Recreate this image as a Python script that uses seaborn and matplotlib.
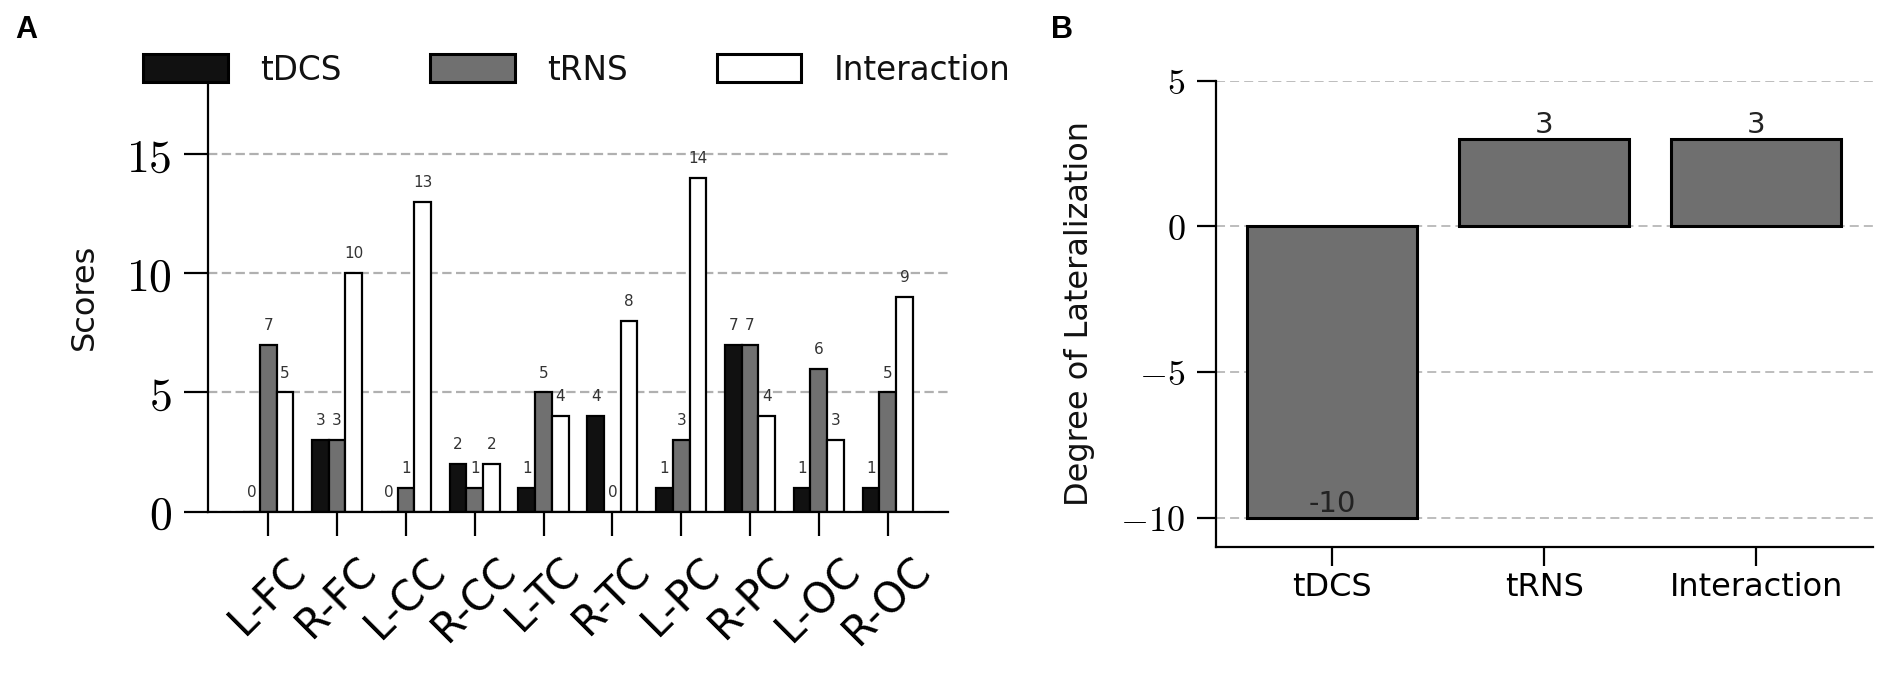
import numpy as np
import pandas as pd
import matplotlib
matplotlib.use("Agg")
import matplotlib.pyplot as plt
from matplotlib.patches import Patch
import seaborn as sns

# data
regions = ['L-FC', 'R-FC', 'L-CC', 'R-CC', 'L-TC', 'R-TC', 'L-PC', 'R-PC', 'L-OC', 'R-OC']
conditions = ['tDCS', 'tRNS', 'Interaction']
tdcs_scores = [0, 3, 0, 2, 1, 4, 1, 7, 1, 1]
trns_scores = [7, 3, 1, 1, 5, 0, 3, 7, 6, 5]
inter_scores = [5, 10, 13, 2, 4, 8, 14, 4, 3, 9]
lat_values = [-10, 3, 3]
yticks_a = [0, 5, 10, 15]
yticks_b = [-10, -5, 0, 5]

bar_colors = ['#111111', '#707070', '#ffffff']

df_a = pd.DataFrame({
    'region': regions * 3,
    'condition': np.repeat(conditions, len(regions)),
    'score': tdcs_scores + trns_scores + inter_scores,
})
df_b = pd.DataFrame({'condition': conditions, 'lat': lat_values})

sns.set_theme(style='ticks')
plt.rcParams['font.family'] = ['DejaVu Sans']
plt.rcParams['mathtext.fontset'] = 'cm'
plt.rcParams['axes.linewidth'] = 1.6
plt.rcParams['axes.edgecolor'] = 'black'
plt.rcParams['text.color'] = '#111111'
plt.rcParams['axes.labelcolor'] = '#111111'
plt.rcParams['xtick.color'] = 'black'
plt.rcParams['ytick.color'] = 'black'

fig = plt.figure(figsize=(19.01, 6.94), dpi=100)
ax_a = fig.add_axes([0.1094, 0.2627, 0.3894, 0.6186])
ax_b = fig.add_axes([0.6395, 0.2123, 0.3456, 0.6714])

# ---- panel A
sns.barplot(data=df_a, x='region', y='score', hue='condition', palette=bar_colors,
            saturation=1, edgecolor='black', linewidth=1.6, width=0.73,
            legend=False, ax=ax_a)
for cont in ax_a.containers:
    for bar in cont:
        h = bar.get_height()
        ax_a.text(bar.get_x() + bar.get_width() / 2, h + 0.5, f'{int(h)}',
                  ha='center', va='bottom', fontsize=11, color='#333333')

ax_a.set_xlim(-0.876, 9.88)
ax_a.set_ylim(0, 18)
ax_a.set_yticks(yticks_a)
ax_a.set_yticklabels([f'${v}$' for v in yticks_a])
ax_a.set_axisbelow(True)
ax_a.yaxis.grid(True, linestyle=(0, (4.2, 2.0)), color='#b0b0b0', lw=1.6)
ax_a.set_xlabel('')
ax_a.set_ylabel('Scores', fontsize=23)
ax_a.yaxis.set_label_coords(-0.146, 0.5)
ax_a.tick_params(axis='y', labelsize=33, length=17, width=1.6, pad=9)
ax_a.tick_params(axis='x', labelsize=30, length=17, width=1.6, pad=10)
plt.setp(ax_a.get_xticklabels(), rotation=45, ha='center')
sns.despine(ax=ax_a)

handles = [Patch(facecolor=c, edgecolor='black', linewidth=2.2) for c in bar_colors]
fig.legend(handles, conditions, loc='center left', bbox_to_anchor=(143 / 1901, 1 - 70 / 694),
           ncol=3, frameon=False, fontsize=23.5, handlelength=2.6, handleheight=0.95,
           handletextpad=1.0, columnspacing=2.7, borderpad=0, borderaxespad=0)

# ---- panel B
sns.barplot(data=df_b, x='condition', y='lat', color='#6f6f6f', saturation=1,
            edgecolor='black', linewidth=2.2, width=0.8, ax=ax_b)
for i, v in enumerate(lat_values):
    ax_b.text(i, v, f'{v}', ha='center', va='bottom', fontsize=21, color='#222222')

ax_b.set_xlim(-0.55, 2.55)
ax_b.set_ylim(-11, 5)
ax_b.set_yticks(yticks_b)
ax_b.set_yticklabels([f'${v}$' for v in yticks_b])
ax_b.set_axisbelow(True)
ax_b.yaxis.grid(True, linestyle=(0, (5.0, 2.8)), color='#b8b8b8', lw=1.3)
ax_b.set_xlabel('')
ax_b.set_ylabel('Degree of Lateralization', fontsize=23)
ax_b.yaxis.set_label_coords(-0.184, 0.5)
ax_b.tick_params(axis='y', labelsize=26, length=14, width=1.6, pad=8)
ax_b.tick_params(axis='x', labelsize=23, length=14, width=1.6, pad=4)
sns.despine(ax=ax_b)

fig.text(15 / 1901, 1 - 38 / 694, 'A', fontsize=22, fontweight='bold',
         family='Liberation Sans', va='baseline', color='black')
fig.text(1051 / 1901, 1 - 38 / 694, 'B', fontsize=22, fontweight='bold',
         family='Liberation Sans', va='baseline', color='black')

fig.savefig('out.png', dpi=100)
